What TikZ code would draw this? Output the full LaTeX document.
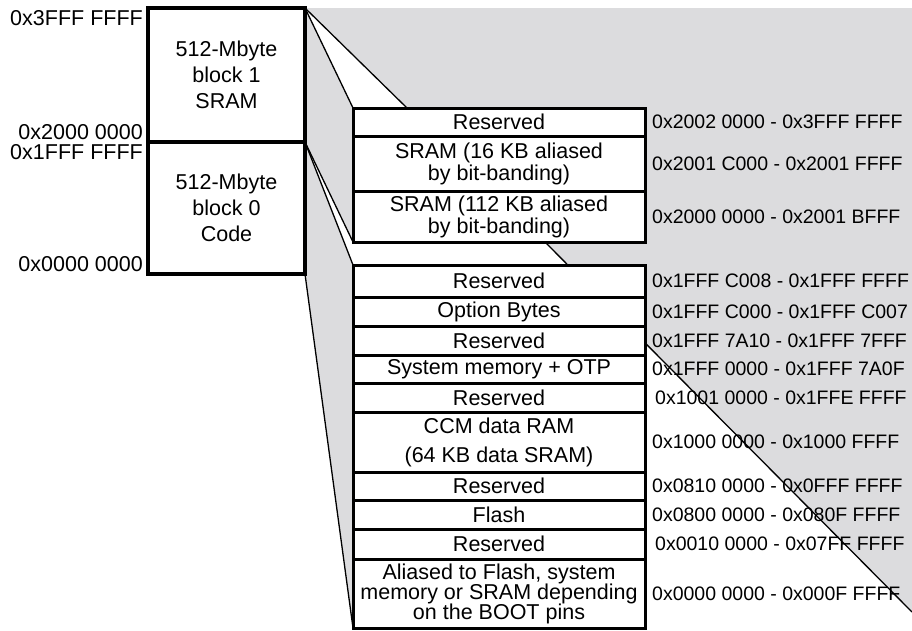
\documentclass[tikz,border=0pt]{standalone}
\usepackage{fontspec}
\setmainfont{Liberation Sans}
\usetikzlibrary{positioning,backgrounds}

\definecolor{bggray}{RGB}{220,220,222}
\newcommand\rowfont{\fontsize{21.5}{22}\selectfont}
\newcommand\adrfont{\fontsize{19.5}{21}\selectfont}

\tikzstyle{block}=[draw, line width=3.5pt, fill=white, minimum width=157pt,
                   anchor=north west, outer sep=0pt, align=center, font=\rowfont]
\tikzstyle{row}=[draw, line width=3pt, fill=white, minimum width=292pt,
                 anchor=north west, outer sep=0pt, inner sep=0pt,
                 align=center, font=\rowfont]
\tikzstyle{adr}=[inner sep=0pt, font=\adrfont]
\tikzstyle{lbl}=[inner sep=0pt, font=\rowfont]
\tikzstyle{fan}=[line width=1.3pt]

\begin{document}
\begin{tikzpicture}[x=1pt,y=-1pt]
  \useasboundingbox (0,0) rectangle (912,630);

  % the two 512-Mbyte blocks
  \node[block, minimum height=134pt] (blk1) at (148,8) {512-Mbyte\\[4pt]block 1\\[4pt]SRAM};
  \node[block, minimum height=132pt] (blk0) at (148,142) {512-Mbyte\\[4pt]block 0\\[4pt]Code};
  \node[lbl, anchor=north east] (l3fff) at ([xshift=-5pt,yshift=-2pt]blk1.north west) {0x3FFF FFFF};
  \node[lbl, anchor=south east] (l2000) at ([xshift=-5pt,yshift=2pt]blk1.south west) {0x2000 0000};
  \node[lbl, anchor=north east] (l1fff) at ([xshift=-5pt,yshift=-2pt]blk0.north west) {0x1FFF FFFF};
  \node[lbl, anchor=south east] (l0000) at ([xshift=-5pt,yshift=2pt]blk0.south west) {0x0000 0000};

  % SRAM detail
  \node[row, minimum height=28pt] (ures) at (353,108) {Reserved};
  \node[row, minimum height=55pt] (usram1) at (ures.south west) {SRAM (16 KB aliased\\by bit-banding)};
  \node[row, minimum height=51pt] (usram2) at (usram1.south west) {SRAM (112 KB aliased\\by bit-banding)};
  \node[adr, right=7pt of ures] (aures) {0x2002 0000 - 0x3FFF FFFF};
  \node[adr, right=7pt of usram1] (ausram1) {0x2001 C000 - 0x2001 FFFF};
  \node[adr, right=7pt of usram2] (ausram2) {0x2000 0000 - 0x2001 BFFF};

  % code detail
  \node[row, minimum height=32pt] (r1) at (353,265) {Reserved};
  \node[row, minimum height=29pt] (optb) at (r1.south west) {Option Bytes};
  \node[row, minimum height=29pt] (r2) at (optb.south west) {Reserved};
  \node[row, minimum height=28pt] (sysmem) at (r2.south west) {System memory + OTP};
  \node[row, minimum height=29pt] (r3) at (sysmem.south west) {Reserved};
  \node[row, minimum height=60pt] (ccm) at (r3.south west) {CCM data RAM\\[7pt](64 KB data SRAM)};
  \node[row, minimum height=28pt] (r4) at (ccm.south west) {Reserved};
  \node[row, minimum height=29pt] (flash) at (r4.south west) {Flash};
  \node[row, minimum height=30pt] (r5) at (flash.south west) {Reserved};
  \node[row, minimum height=69pt] (alias) at (r5.south west) {Aliased to Flash, system\\[-2pt]memory or SRAM depending\\[-2pt]on the BOOT pins};
  \node[adr, right=7pt of r1] (ar1) {0x1FFF C008 - 0x1FFF FFFF};
  \node[adr, right=7pt of optb] (aoptb) {0x1FFF C000 - 0x1FFF C007};
  \node[adr, right=7pt of r2] (ar2) {0x1FFF 7A10 - 0x1FFF 7FFF};
  \node[adr, right=7pt of sysmem] (asysmem) {0x1FFF 0000 - 0x1FFF 7A0F};
  \node[adr, right=10pt of r3] (ar3) {0x1001 0000 - 0x1FFE FFFF};
  \node[adr, right=7pt of ccm] (accm) {0x1000 0000 - 0x1000 FFFF};
  \node[adr, right=7pt of r4] (ar4) {0x0810 0000 - 0x0FFF FFFF};
  \node[adr, right=7pt of flash] (aflash) {0x0800 0000 - 0x080F FFFF};
  \node[adr, right=10pt of r5] (ar5) {0x0010 0000 - 0x07FF FFFF};
  \node[adr, right=7pt of alias] (aalias) {0x0000 0000 - 0x000F FFFF};

  \coordinate (ftop) at (407,108);
  \coordinate (gtr) at (912,8);
  \coordinate (dtop) at (545,242);
  \coordinate (dbot) at (912,612);

  % zoom fans
  \begin{scope}[on background layer]
    \fill[bggray] (blk1.north east) -- (gtr) -- (dbot) -- (dtop) -- (usram2.south west) -- (blk0.north east) -- cycle;
    \fill[bggray] (blk0.north east) -- (r1.north west) -- (alias.south west) -- (blk0.south east) -- cycle;
    \fill[white] (blk1.north east) -- (ures.north west) -- (ftop) -- cycle;
    \draw[fan] (blk1.north east) -- (ures.north west);
    \draw[fan] (blk1.north east) -- (ftop);
    \draw[fan] (blk0.north east) -- (usram2.south west);
    \draw[fan] (blk0.north east) -- (r1.north west);
    \draw[fan] (blk0.south east) -- (alias.south west);
    \draw[fan] (dtop) -- (dbot);
  \end{scope}
\end{tikzpicture}
\end{document}
